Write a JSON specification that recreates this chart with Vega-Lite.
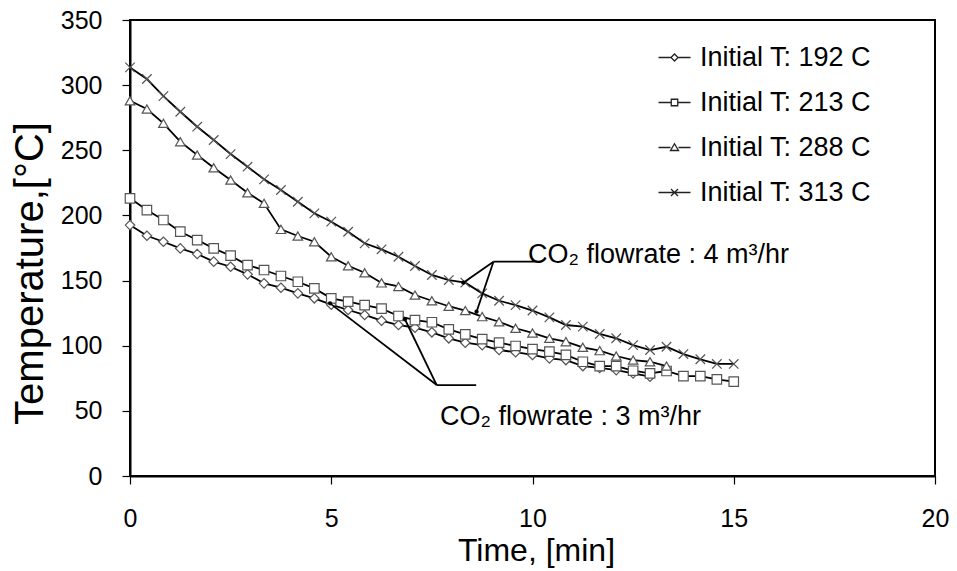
{
  "$schema": "https://vega.github.io/schema/vega-lite/v6.json",
  "width": 805,
  "height": 456,
  "autosize": {"type": "none"},
  "padding": {"left": 130, "top": 20, "right": 22, "bottom": 95},
  "background": "white",
  "config": {
    "font": "Liberation Sans",
    "view": {"stroke": "#000", "strokeWidth": 2},
    "axis": {
      "grid": false,
      "domainColor": "#000",
      "domainWidth": 2,
      "tickColor": "#000",
      "tickSize": 8,
      "tickWidth": 1.2,
      "labelFontSize": 25,
      "labelColor": "#000",
      "labelFlush": false,
      "labelFont": "Liberation Sans",
      "titleFont": "Liberation Sans",
      "titleFontWeight": "normal",
      "titleColor": "#000"
    }
  },
  "resolve": {"scale": {"shape": "independent"}, "legend": {"shape": "independent"}},
  "datasets": {
    "temps": [
      {"series": "Initial T: 192 C", "time": 0, "temp": 192.6},
      {"series": "Initial T: 192 C", "time": 0.42, "temp": 184.4},
      {"series": "Initial T: 192 C", "time": 0.83, "temp": 179.8},
      {"series": "Initial T: 192 C", "time": 1.25, "temp": 174.7},
      {"series": "Initial T: 192 C", "time": 1.67, "temp": 170.4},
      {"series": "Initial T: 192 C", "time": 2.08, "temp": 164.5},
      {"series": "Initial T: 192 C", "time": 2.5, "temp": 160.6},
      {"series": "Initial T: 192 C", "time": 2.92, "temp": 154.8},
      {"series": "Initial T: 192 C", "time": 3.33, "temp": 147.9},
      {"series": "Initial T: 192 C", "time": 3.75, "temp": 144.5},
      {"series": "Initial T: 192 C", "time": 4.17, "temp": 140.2},
      {"series": "Initial T: 192 C", "time": 4.58, "temp": 136.4},
      {"series": "Initial T: 192 C", "time": 5, "temp": 131.5},
      {"series": "Initial T: 192 C", "time": 5.42, "temp": 127.4},
      {"series": "Initial T: 192 C", "time": 5.83, "temp": 123.6},
      {"series": "Initial T: 192 C", "time": 6.25, "temp": 119.2},
      {"series": "Initial T: 192 C", "time": 6.67, "temp": 115.9},
      {"series": "Initial T: 192 C", "time": 7.08, "temp": 113.8},
      {"series": "Initial T: 192 C", "time": 7.5, "temp": 110.3},
      {"series": "Initial T: 192 C", "time": 7.92, "temp": 105.7},
      {"series": "Initial T: 192 C", "time": 8.33, "temp": 102.3},
      {"series": "Initial T: 192 C", "time": 8.75, "temp": 100.5},
      {"series": "Initial T: 192 C", "time": 9.17, "temp": 96.7},
      {"series": "Initial T: 192 C", "time": 9.58, "temp": 95.0},
      {"series": "Initial T: 192 C", "time": 10, "temp": 92.9},
      {"series": "Initial T: 192 C", "time": 10.42, "temp": 90.3},
      {"series": "Initial T: 192 C", "time": 10.83, "temp": 89.0},
      {"series": "Initial T: 192 C", "time": 11.25, "temp": 84.4},
      {"series": "Initial T: 192 C", "time": 11.67, "temp": 83.0},
      {"series": "Initial T: 192 C", "time": 12.08, "temp": 81.3},
      {"series": "Initial T: 192 C", "time": 12.5, "temp": 78.8},
      {"series": "Initial T: 192 C", "time": 12.92, "temp": 76.2},

      {"series": "Initial T: 213 C", "time": 0, "temp": 213.1},
      {"series": "Initial T: 213 C", "time": 0.42, "temp": 204.1},
      {"series": "Initial T: 213 C", "time": 0.83, "temp": 196.5},
      {"series": "Initial T: 213 C", "time": 1.25, "temp": 187.5},
      {"series": "Initial T: 213 C", "time": 1.67, "temp": 181.1},
      {"series": "Initial T: 213 C", "time": 2.08, "temp": 174.7},
      {"series": "Initial T: 213 C", "time": 2.5, "temp": 169.1},
      {"series": "Initial T: 213 C", "time": 2.92, "temp": 161.9},
      {"series": "Initial T: 213 C", "time": 3.33, "temp": 158.1},
      {"series": "Initial T: 213 C", "time": 3.75, "temp": 153.5},
      {"series": "Initial T: 213 C", "time": 4.17, "temp": 149.1},
      {"series": "Initial T: 213 C", "time": 4.58, "temp": 144.0},
      {"series": "Initial T: 213 C", "time": 5, "temp": 136.4},
      {"series": "Initial T: 213 C", "time": 5.42, "temp": 133.8},
      {"series": "Initial T: 213 C", "time": 5.83, "temp": 131.2},
      {"series": "Initial T: 213 C", "time": 6.25, "temp": 128.5},
      {"series": "Initial T: 213 C", "time": 6.67, "temp": 122.8},
      {"series": "Initial T: 213 C", "time": 7.08, "temp": 119.7},
      {"series": "Initial T: 213 C", "time": 7.5, "temp": 118.0},
      {"series": "Initial T: 213 C", "time": 7.92, "temp": 112.6},
      {"series": "Initial T: 213 C", "time": 8.33, "temp": 108.7},
      {"series": "Initial T: 213 C", "time": 8.75, "temp": 105.1},
      {"series": "Initial T: 213 C", "time": 9.17, "temp": 102.3},
      {"series": "Initial T: 213 C", "time": 9.58, "temp": 99.8},
      {"series": "Initial T: 213 C", "time": 10, "temp": 97.4},
      {"series": "Initial T: 213 C", "time": 10.42, "temp": 95.4},
      {"series": "Initial T: 213 C", "time": 10.83, "temp": 92.9},
      {"series": "Initial T: 213 C", "time": 11.25, "temp": 87.7},
      {"series": "Initial T: 213 C", "time": 11.67, "temp": 84.4},
      {"series": "Initial T: 213 C", "time": 12.08, "temp": 84.4},
      {"series": "Initial T: 213 C", "time": 12.5, "temp": 80.8},
      {"series": "Initial T: 213 C", "time": 12.92, "temp": 78.8},
      {"series": "Initial T: 213 C", "time": 13.33, "temp": 80.6},
      {"series": "Initial T: 213 C", "time": 13.75, "temp": 76.7},
      {"series": "Initial T: 213 C", "time": 14.17, "temp": 76.7},
      {"series": "Initial T: 213 C", "time": 14.58, "temp": 74.2},
      {"series": "Initial T: 213 C", "time": 15, "temp": 72.5},

      {"series": "Initial T: 288 C", "time": 0, "temp": 288.0},
      {"series": "Initial T: 288 C", "time": 0.42, "temp": 281.7},
      {"series": "Initial T: 288 C", "time": 0.83, "temp": 270.7},
      {"series": "Initial T: 288 C", "time": 1.25, "temp": 256.6},
      {"series": "Initial T: 288 C", "time": 1.67, "temp": 246.4},
      {"series": "Initial T: 288 C", "time": 2.08, "temp": 236.6},
      {"series": "Initial T: 288 C", "time": 2.5, "temp": 227.2},
      {"series": "Initial T: 288 C", "time": 2.92, "temp": 217.4},
      {"series": "Initial T: 288 C", "time": 3.33, "temp": 209.3},
      {"series": "Initial T: 288 C", "time": 3.75, "temp": 189.3},
      {"series": "Initial T: 288 C", "time": 4.17, "temp": 184.2},
      {"series": "Initial T: 288 C", "time": 4.58, "temp": 179.8},
      {"series": "Initial T: 288 C", "time": 5, "temp": 168.3},
      {"series": "Initial T: 288 C", "time": 5.42, "temp": 161.4},
      {"series": "Initial T: 288 C", "time": 5.83, "temp": 156.0},
      {"series": "Initial T: 288 C", "time": 6.25, "temp": 148.2},
      {"series": "Initial T: 288 C", "time": 6.67, "temp": 145.5},
      {"series": "Initial T: 288 C", "time": 7.08, "temp": 138.9},
      {"series": "Initial T: 288 C", "time": 7.5, "temp": 134.5},
      {"series": "Initial T: 288 C", "time": 7.92, "temp": 130.3},
      {"series": "Initial T: 288 C", "time": 8.33, "temp": 127.0},
      {"series": "Initial T: 288 C", "time": 8.75, "temp": 122.3},
      {"series": "Initial T: 288 C", "time": 9.17, "temp": 118.4},
      {"series": "Initial T: 288 C", "time": 9.58, "temp": 113.4},
      {"series": "Initial T: 288 C", "time": 10, "temp": 109.8},
      {"series": "Initial T: 288 C", "time": 10.42, "temp": 105.7},
      {"series": "Initial T: 288 C", "time": 10.83, "temp": 103.1},
      {"series": "Initial T: 288 C", "time": 11.25, "temp": 98.8},
      {"series": "Initial T: 288 C", "time": 11.67, "temp": 96.2},
      {"series": "Initial T: 288 C", "time": 12.08, "temp": 92.1},
      {"series": "Initial T: 288 C", "time": 12.5, "temp": 89.0},
      {"series": "Initial T: 288 C", "time": 12.92, "temp": 87.7},
      {"series": "Initial T: 288 C", "time": 13.33, "temp": 84.4},

      {"series": "Initial T: 313 C", "time": 0, "temp": 313.6},
      {"series": "Initial T: 313 C", "time": 0.42, "temp": 304.7},
      {"series": "Initial T: 313 C", "time": 0.83, "temp": 291.6},
      {"series": "Initial T: 313 C", "time": 1.25, "temp": 279.6},
      {"series": "Initial T: 313 C", "time": 1.67, "temp": 268.1},
      {"series": "Initial T: 313 C", "time": 2.08, "temp": 257.9},
      {"series": "Initial T: 313 C", "time": 2.5, "temp": 247.1},
      {"series": "Initial T: 313 C", "time": 2.92, "temp": 237.4},
      {"series": "Initial T: 313 C", "time": 3.33, "temp": 227.7},
      {"series": "Initial T: 313 C", "time": 3.75, "temp": 219.5},
      {"series": "Initial T: 313 C", "time": 4.17, "temp": 210.5},
      {"series": "Initial T: 313 C", "time": 4.58, "temp": 201.6},
      {"series": "Initial T: 313 C", "time": 5, "temp": 195.2},
      {"series": "Initial T: 313 C", "time": 5.42, "temp": 187.5},
      {"series": "Initial T: 313 C", "time": 5.83, "temp": 178.6},
      {"series": "Initial T: 313 C", "time": 6.25, "temp": 174.0},
      {"series": "Initial T: 313 C", "time": 6.67, "temp": 168.3},
      {"series": "Initial T: 313 C", "time": 7.08, "temp": 161.2},
      {"series": "Initial T: 313 C", "time": 7.5, "temp": 154.3},
      {"series": "Initial T: 313 C", "time": 7.92, "temp": 150.4},
      {"series": "Initial T: 313 C", "time": 8.33, "temp": 148.4},
      {"series": "Initial T: 313 C", "time": 8.75, "temp": 140.2},
      {"series": "Initial T: 313 C", "time": 9.17, "temp": 134.5},
      {"series": "Initial T: 313 C", "time": 9.58, "temp": 131.2},
      {"series": "Initial T: 313 C", "time": 10, "temp": 127.0},
      {"series": "Initial T: 313 C", "time": 10.42, "temp": 121.8},
      {"series": "Initial T: 313 C", "time": 10.83, "temp": 115.9},
      {"series": "Initial T: 313 C", "time": 11.25, "temp": 114.6},
      {"series": "Initial T: 313 C", "time": 11.67, "temp": 109.0},
      {"series": "Initial T: 313 C", "time": 12.08, "temp": 105.7},
      {"series": "Initial T: 313 C", "time": 12.5, "temp": 100.5},
      {"series": "Initial T: 313 C", "time": 12.92, "temp": 96.7},
      {"series": "Initial T: 313 C", "time": 13.33, "temp": 99.2},
      {"series": "Initial T: 313 C", "time": 13.75, "temp": 93.6},
      {"series": "Initial T: 313 C", "time": 14.17, "temp": 89.6},
      {"series": "Initial T: 313 C", "time": 14.58, "temp": 86.0},
      {"series": "Initial T: 313 C", "time": 15, "temp": 86.0}
    ],
    "arrows": [
      {"x1": 9.03, "y1": 164.5, "x2": 10.19, "y2": 164.5},
      {"x1": 9.03, "y1": 164.5, "x2": 8.28, "y2": 148.4},
      {"x1": 9.03, "y1": 164.5, "x2": 8.61, "y2": 126.1},
      {"x1": 7.62, "y1": 69.8, "x2": 8.6, "y2": 69.8},
      {"x1": 7.62, "y1": 69.8, "x2": 4.97, "y2": 132.5},
      {"x1": 7.62, "y1": 69.8, "x2": 6.83, "y2": 120.3}
    ],
    "notes": [
      {"x": 9.89, "y": 163.5, "label": "CO₂ flowrate : 4 m³/hr"},
      {"x": 7.7, "y": 39.1, "label": "CO₂ flowrate : 3 m³/hr"}
    ]
  },
  "layer": [
    {
      "data": {"name": "temps"},
      "mark": {"type": "line", "color": "#000", "strokeWidth": 1.8},
      "encoding": {
        "x": {
          "field": "time", "type": "quantitative",
          "title": "Time, [min]",
          "scale": {"domain": [0, 20], "nice": false},
          "axis": {
            "values": [0, 5, 10, 15, 20],
            "labelPadding": 22,
            "titleFontSize": 32,
            "titleX": 406,
            "titleY": 84,
            "titleBaseline": "alphabetic",
            "titleAlign": "center"
          }
        },
        "y": {
          "field": "temp", "type": "quantitative",
          "title": "Temperature,[°C]",
          "scale": {"domain": [0, 350], "nice": false},
          "axis": {
            "values": [0, 50, 100, 150, 200, 250, 300, 350],
            "labelPadding": 20,
            "titleFontSize": 40,
            "titleX": -88,
            "titleY": 253,
            "titleAngle": -90,
            "titleBaseline": "alphabetic",
            "titleAlign": "center"
          }
        },
        "detail": {"field": "series"}
      }
    },
    {
      "data": {"name": "temps"},
      "mark": {"type": "point", "filled": true, "fill": "white", "stroke": "#555", "strokeWidth": 1.2, "size": 90, "opacity": 1},
      "encoding": {
        "x": {"field": "time", "type": "quantitative", "title": "Time, [min]", "scale": {"domain": [0, 20], "nice": false}},
        "y": {"field": "temp", "type": "quantitative", "title": "Temperature,[°C]", "scale": {"domain": [0, 350], "nice": false}},
        "shape": {
          "field": "series", "type": "nominal",
          "scale": {"range": ["diamond", "square", "triangle-up", "M-1,-1L1,1M-1,1L1,-1"]},
          "legend": null
        }
      }
    },
    {
      "data": {"name": "temps"},
      "transform": [{"filter": "datum.time < 0"}],
      "mark": {"type": "point", "filled": true, "fill": "white", "stroke": "#222", "strokeWidth": 1.3, "size": 100, "opacity": 1},
      "encoding": {
        "x": {"field": "time", "type": "quantitative", "title": "Time, [min]", "scale": {"domain": [0, 20], "nice": false}},
        "y": {"field": "temp", "type": "quantitative", "title": "Temperature,[°C]", "scale": {"domain": [0, 350], "nice": false}},
        "shape": {
          "field": "series", "type": "nominal",
          "scale": {
            "domain": ["Initial T: 192 C", "Initial T: 213 C", "Initial T: 288 C", "Initial T: 313 C"],
            "range": [
              "M-3.2,0H-0.7M0.7,0H3.2M-0.7,0L0,-0.7L0.7,0L0,0.7Z",
              "M-3.2,0H-0.65M0.65,0H3.2M-0.65,-0.65H0.65V0.65H-0.65Z",
              "M-3.2,0H-0.8M0.8,0H3.2M0,-0.75L0.8,0.6H-0.8Z",
              "M-3.2,0H3.2M-0.7,-0.7L0.7,0.7M-0.7,0.7L0.7,-0.7"
            ]
          },
          "legend": {
            "orient": "none",
            "legendX": 531,
            "legendY": 24,
            "title": null,
            "padding": 0,
            "labelFontSize": 27,
            "labelColor": "#000",
            "labelFont": "Liberation Sans",
            "labelLimit": 400,
            "labelOffset": 12,
            "rowPadding": 17,
            "symbolSize": 100,
            "symbolStrokeWidth": 1.3
          }
        }
      }
    },
    {
      "data": {"name": "arrows"},
      "mark": {"type": "rule", "color": "#000", "strokeWidth": 1.8},
      "encoding": {
        "x": {"field": "x1", "type": "quantitative", "title": "Time, [min]", "scale": {"domain": [0, 20], "nice": false}},
        "y": {"field": "y1", "type": "quantitative", "title": "Temperature,[°C]", "scale": {"domain": [0, 350], "nice": false}},
        "x2": {"field": "x2"},
        "y2": {"field": "y2"}
      }
    },
    {
      "data": {"name": "arrows"},
      "transform": [{"filter": "datum.x2 < datum.x1"}],
      "mark": {"type": "point", "filled": true, "color": "#000", "size": 18, "opacity": 1},
      "encoding": {
        "x": {"field": "x2", "type": "quantitative", "title": "Time, [min]", "scale": {"domain": [0, 20], "nice": false}},
        "y": {"field": "y2", "type": "quantitative", "title": "Temperature,[°C]", "scale": {"domain": [0, 350], "nice": false}}
      }
    },
    {
      "data": {"name": "notes"},
      "mark": {"type": "text", "align": "left", "baseline": "alphabetic", "fontSize": 27, "font": "Liberation Sans", "color": "#000"},
      "encoding": {
        "x": {"field": "x", "type": "quantitative", "title": "Time, [min]", "scale": {"domain": [0, 20], "nice": false}},
        "y": {"field": "y", "type": "quantitative", "title": "Temperature,[°C]", "scale": {"domain": [0, 350], "nice": false}},
        "text": {"field": "label"}
      }
    }
  ]
}
